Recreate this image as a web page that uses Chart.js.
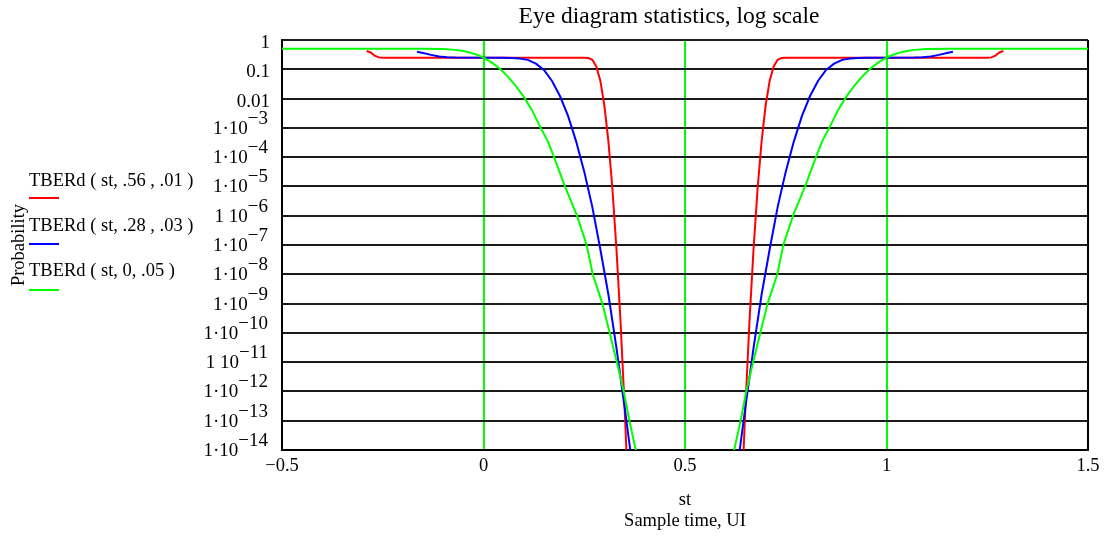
<!DOCTYPE html>
<html>
<head>
<meta charset="utf-8">
<script src="https://cdn.jsdelivr.net/npm/chart.js@4/dist/chart.umd.min.js"></script>
<style>
  html, body { margin: 0; padding: 0; background: #fff; }
  #wrap { width: 1107px; height: 539px; position: relative; }
</style>
</head>
<body>
<div id="wrap"><canvas id="c"></canvas></div>
<script>
// y ticks: decades from 1 down to 1e-14
const yExps = [0, -1, -2, -3, -4, -5, -6, -7, -8, -9, -10, -11, -12, -13, -14];
const yBase = ["1", "0.1", "0.01", "1·10", "1·10", "1·10", "1 10", "1·10", "1·10", "1·10", "1·10", "1 10", "1·10", "1·10", "1·10"];
const ySup = ["", "", "", "−3", "−4", "−5", "−6", "−7", "−8", "−9", "−10", "−11", "−12", "−13", "−14"];
const xTicks = [-0.5, 0, 0.5, 1, 1.5];
const xTickText = ["−0.5", "0", "0.5", "1", "1.5"];

// TBERd(st, .56, .01)
const redX = [-0.29, -0.28, -0.27, -0.26, -0.25, 0.25, 0.26, 0.27, 0.28, 0.29, 0.30, 0.31, 0.32, 0.33, 0.34, 0.35, 0.36,
  0.64, 0.65, 0.66, 0.67, 0.68, 0.69, 0.70, 0.71, 0.72, 0.73, 0.74, 0.75, 1.25, 1.26, 1.27, 1.28, 1.29];
const redY = [0.42, 0.375, 0.29, 0.255, 0.25, 0.25, 0.245, 0.21, 0.125, 0.04, 5.7e-3, 3.4e-4, 8e-6, 7e-8, 2.5e-10, 3.2e-13, 1.6e-16,
  1.6e-16, 3.2e-13, 2.5e-10, 7e-8, 8e-6, 3.4e-4, 5.7e-3, 0.04, 0.125, 0.21, 0.245, 0.25, 0.25, 0.255, 0.29, 0.375, 0.42];

// TBERd(st, .28, .03)
const blueX = [-0.165, -0.15, -0.13, -0.11, -0.09, -0.07, 0.05, 0.07, 0.09, 0.11, 0.13, 0.15, 0.17, 0.19, 0.21, 0.23, 0.25, 0.27, 0.29, 0.31, 0.33, 0.35, 0.37,
  0.63, 0.65, 0.67, 0.69, 0.71, 0.73, 0.75, 0.77, 0.79, 0.81, 0.83, 0.85, 0.87, 0.89, 0.91, 0.93, 0.95, 1.07, 1.09, 1.11, 1.13, 1.15, 1.165];
const blueY = [0.4, 0.36, 0.31, 0.275, 0.258, 0.251, 0.25, 0.245, 0.235, 0.21, 0.155, 0.095, 0.04, 0.012, 2.5e-3, 3.4e-4, 3.2e-5, 2e-6, 7e-8, 2e-9, 3e-11, 3e-13, 2.5e-15,
  2.5e-15, 3e-13, 3e-11, 2e-9, 7e-8, 2e-6, 3.2e-5, 3.4e-4, 2.5e-3, 0.012, 0.04, 0.095, 0.155, 0.21, 0.235, 0.245, 0.25, 0.251, 0.258, 0.275, 0.31, 0.36, 0.4];

// TBERd(st, 0, .05)
const greenX = [-0.5, -0.15, -0.1, -0.07, -0.05, -0.03, -0.01, 0, 0.02, 0.04, 0.06, 0.08, 0.1, 0.12, 0.142, 0.16, 0.175, 0.202, 0.232, 0.256, 0.271, 0.295, 0.313, 0.331, 0.348, 0.362, 0.378, 0.4,
  0.6, 0.622, 0.638, 0.652, 0.669, 0.687, 0.705, 0.729, 0.744, 0.768, 0.798, 0.825, 0.84, 0.858, 0.88, 0.9, 0.92, 0.94, 0.96, 0.98, 1, 1.01, 1.03, 1.05, 1.07, 1.1, 1.15, 1.5];
const greenY = [0.5, 0.5, 0.489, 0.46, 0.42, 0.363, 0.29, 0.25, 0.172, 0.106, 0.0575, 0.0274, 0.0114, 0.0041, 1e-3, 3.4e-4, 1e-4, 1e-5, 1e-6, 1e-7, 1e-8, 1e-9, 1e-10, 1e-11, 1e-12, 1e-13, 1e-14, 3e-16,
  3e-16, 1e-14, 1e-13, 1e-12, 1e-11, 1e-10, 1e-9, 1e-8, 1e-7, 1e-6, 1e-5, 1e-4, 3.4e-4, 1e-3, 0.0041, 0.0114, 0.0274, 0.0575, 0.106, 0.172, 0.25, 0.29, 0.363, 0.42, 0.46, 0.489, 0.5, 0.5];

const legendText = ["TBERd ( st, .56 , .01 )", "TBERd ( st, .28 , .03 )", "TBERd ( st, 0, .05 )"];
const legendColor = ["#ff0000", "#0000ff", "#00ff00"];

const FONT = '"Liberation Serif", "Times New Roman", serif';
const pts = (xs, ys) => xs.map((x, i) => ({ x, y: ys[i] }));

const textPlugin = {
  id: "mathcadText",
  afterDraw(chart) {
    const { ctx, chartArea, scales } = chart;
    ctx.save();
    ctx.fillStyle = "#000";
    ctx.textBaseline = "middle";

    // y tick labels with raised exponents
    ctx.font = "19px " + FONT;
    ctx.textAlign = "right";
    const right = 268;
    yExps.forEach((e, i) => {
      const y = scales.y.getPixelForValue(Math.pow(10, e));
      if (!ySup[i]) {
        ctx.fillText(yBase[i], right + 2, y + 3);
      } else {
        const w = ctx.measureText(ySup[i]).width;
        ctx.fillText(ySup[i], right, y - 9);
        ctx.fillText(yBase[i], right - w, y + 1);
      }
    });

    // title
    ctx.textAlign = "center";
    ctx.font = "23.5px " + FONT;
    ctx.fillText("Eye diagram statistics, log scale", 669, 17);

    // x axis labels
    ctx.font = "18.5px " + FONT;
    const cx = (chartArea.left + chartArea.right) / 2;
    ctx.fillText("st", cx, 500);
    ctx.fillText("Sample time, UI", cx, 521);

    // y axis title
    ctx.save();
    ctx.translate(19, (chartArea.top + chartArea.bottom) / 2);
    ctx.rotate(-Math.PI / 2);
    ctx.fillText("Probability", 0, 0);
    ctx.restore();

    // legend
    ctx.textAlign = "left";
    const textY = [181, 226, 271];
    const lineY = [198, 244, 290];
    legendText.forEach((t, i) => {
      ctx.fillStyle = "#000";
      ctx.fillText(t, 29, textY[i]);
      ctx.strokeStyle = legendColor[i];
      ctx.lineWidth = 2;
      ctx.beginPath();
      ctx.moveTo(29, lineY[i]);
      ctx.lineTo(59, lineY[i]);
      ctx.stroke();
    });
    ctx.restore();
  }
};

new Chart(document.getElementById("c"), {
  type: "line",
  data: {
    datasets: [
      { label: legendText[2], data: pts(greenX, greenY), borderColor: "#00ff00" },
      { label: legendText[1], data: pts(blueX, blueY), borderColor: "#0000ff" },
      { label: legendText[0], data: pts(redX, redY), borderColor: "#ff0000" },
    ].map(d => Object.assign(d, { borderWidth: 2, pointRadius: 0, tension: 0, fill: false }))
  },
  options: {
    responsive: true,
    maintainAspectRatio: false,
    animation: false,
    layout: { padding: { left: 0, top: 40, right: 19, bottom: 0 } },
    plugins: { legend: { display: false }, tooltip: { enabled: false } },
    scales: {
      x: {
        type: "linear",
        min: -0.5,
        max: 1.5,
        afterBuildTicks: s => { s.ticks = xTicks.map(v => ({ value: v })); },
        afterFit: s => { s.height = 89; },
        ticks: {
          color: "#000",
          padding: 5,
          font: { family: FONT, size: 18.5 },
          maxRotation: 0,
          callback: (v) => xTickText[xTicks.indexOf(v)]
        },
        grid: {
          drawTicks: false,
          lineWidth: 2,
          color: c => (c.tick && (c.tick.value === -0.5 || c.tick.value === 1.5)) ? "#000" : "#00ff00"
        },
        border: { display: true, color: "#000", width: 2 }
      },
      y: {
        type: "logarithmic",
        min: 1e-14,
        max: 1,
        afterBuildTicks: s => { s.ticks = yExps.map(e => ({ value: Math.pow(10, e) })); },
        afterFit: s => { s.width = 282; },
        ticks: { display: false },
        grid: { drawTicks: false, lineWidth: 2, color: "#1a1a1a" },
        border: { display: true, color: "#000", width: 2 }
      }
    }
  },
  plugins: [textPlugin]
});
</script>
</body>
</html>
